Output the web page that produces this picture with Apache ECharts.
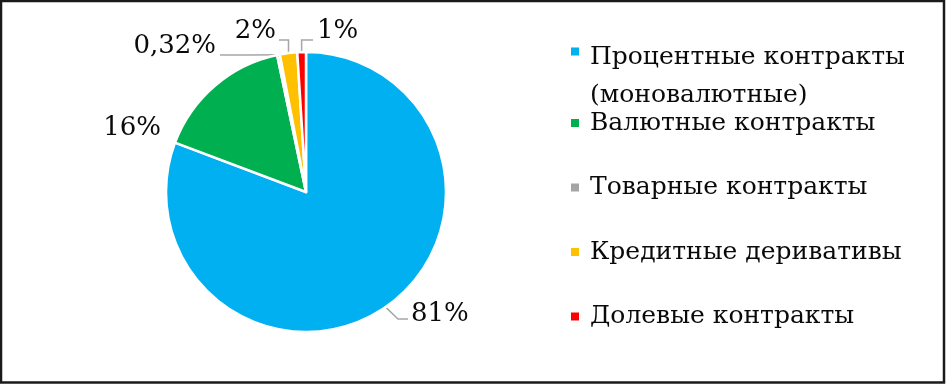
<!DOCTYPE html>
<html><head><meta charset="utf-8">
<script src="https://cdn.jsdelivr.net/npm/echarts@6/dist/echarts.min.js"></script>
<style>html,body{margin:0;padding:0;background:#fff}#c{width:946px;height:384px}</style>
</head><body><div id="c"></div>
<script>
const categories = ['Процентные контракты (моновалютные)', 'Валютные контракты', 'Товарные контракты', 'Кредитные деривативы', 'Долевые контракты'];
const values = [81, 16, 0.32, 2, 1];
const labelTexts = ['81%', '16%', '0,32%', '2%', '1%'];
const colors = ['#00B0F0', '#00B050', '#A5A5A5', '#FFC000', '#FF0000'];

const FONT = 'DejaVu Serif';
// label placement (style only): text anchor and leader-line shape
const labelPlacement = [
  { x: 411, y: 314, align: 'left', bend: [398, 319], end: [408, 319] },
  { x: 161, y: 128, align: 'right' },
  { x: 216, y: 46, align: 'right', bend: [250, 55], end: [220, 55] },
  { x: 276, y: 31, align: 'right', bendY: 40, end: [279, 40] },
  { x: 317, y: 31, align: 'left', bendY: 40, end: [313, 40] }
];

const chart = echarts.init(document.getElementById('c'), null, { renderer: 'canvas' });
chart.setOption({
  animation: false,
  backgroundColor: '#fff',
  color: colors,
  graphic: [{
    type: 'rect', shape: { x: 1, y: 1, width: 943, height: 381.5 },
    style: { fill: 'none', stroke: '#1a1a1a', lineWidth: 2.5 }, z: 100
  }],
  legend: [
    {
      data: [categories[0]], orient: 'vertical', left: 571, top: 38, padding: 0,
      itemWidth: 8, itemHeight: 57, icon: 'path://M0,0L8,0L8,8L0,8Z M0,57L8,57',
      itemStyle: { borderWidth: 0 },
      formatter: n => n.replace(' (', '\n('),
      textStyle: { fontFamily: FONT, fontSize: 25, lineHeight: 38, color: '#0a0a0a', padding: [0, 0, 0, 6] }
    },
    {
      data: categories.slice(1), orient: 'vertical', left: 571, top: 109, padding: 0,
      itemGap: 36.5, itemWidth: 8, itemHeight: 8, icon: 'rect',
      itemStyle: { borderWidth: 0 },
      textStyle: { fontFamily: FONT, fontSize: 25, lineHeight: 28, color: '#0a0a0a', padding: [0, 0, 0, 6] }
    }
  ],
  series: [{
    type: 'pie',
    center: [306, 192], radius: 140, startAngle: 90, clockwise: true,
    avoidLabelOverlap: false,
    itemStyle: { borderColor: '#fff', borderWidth: 2.5 },
    label: {
      show: true, position: 'outside', fontFamily: FONT, fontSize: 26, color: '#0a0a0a',
      formatter: p => labelTexts[p.dataIndex]
    },
    labelLine: { show: true, length: 10, length2: 10, lineStyle: { color: '#A6A6A6', width: 1.5 } },
    labelLayout: function (p) {
      const pl = labelPlacement[p.dataIndex];
      const out = { x: pl.x, y: pl.y, align: pl.align, verticalAlign: 'middle' };
      if (p.labelLinePoints && (pl.end)) {
        const e = p.labelLinePoints[0];
        const bend = pl.bend ? pl.bend : [e[0], pl.bendY];
        out.labelLinePoints = [e, bend, pl.end];
      }
      return out;
    },
    data: categories.map((c, i) => ({
      name: c, value: values[i],
      labelLine: { show: i !== 1 }
    }))
  }]
});
</script></body></html>
